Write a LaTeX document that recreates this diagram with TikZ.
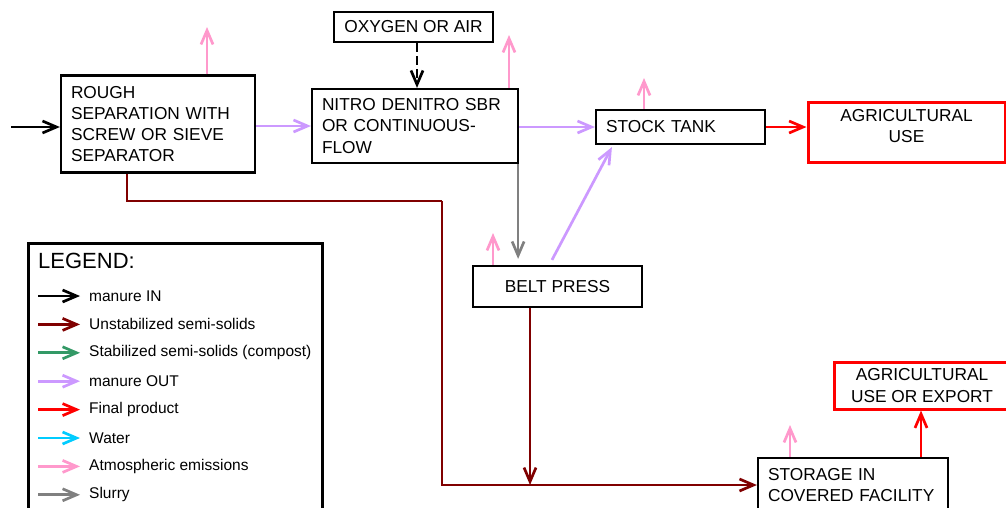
\documentclass[tikz,border=0pt]{standalone}
\usepackage{fontspec}
\setmainfont{Liberation Sans}
\usepackage{xcolor}
\usetikzlibrary{arrows.meta,positioning}
\definecolor{semired}{RGB}{128,0,0}
\definecolor{compost}{RGB}{51,153,102}
\definecolor{manureout}{RGB}{204,153,255}
\definecolor{water}{RGB}{0,204,255}
\definecolor{emission}{RGB}{255,153,204}
\definecolor{slurry}{RGB}{128,128,128}

\begin{document}
\begin{tikzpicture}[
  x=1pt,y=1pt,
  box/.style={draw,line width=2.2pt,align=left,inner xsep=10pt,inner ysep=0pt,
              font=\fontsize{17.3}{21.3}\selectfont},
  product/.style={box,draw=red,line width=3pt,align=center},
  flow/.style={-{Straight Barb[length=14pt,width=12pt]},line width=2.7pt},
  emis/.style={flow,emission},
  legtext/.style={anchor=west,inner sep=0pt,font=\fontsize{15.5}{18}\selectfont}
]
\useasboundingbox (0,0) rectangle (1006,-507);
\clip (0,0) rectangle (1006,-507);

% process boxes
\node[box,text width=174pt,minimum height=97pt] (rough) at (158,-124)
  {ROUGH\\SEPARATION WITH\\SCREW OR SIEVE\\SEPARATOR};
\node[box,text width=186pt,minimum height=74pt] (nitro) at (415,-126)
  {NITRO DENITRO SBR\\OR CONTINUOUS-\\FLOW};
\node[box,align=center,minimum width=159pt,minimum height=30pt] (oxygen) at (413.5,-26.7)
  {OXYGEN OR AIR};
\node[box,text width=149pt,minimum height=34pt] (stock) at (680.5,-127) {STOCK TANK};
\node[product,minimum width=197pt,minimum height=60pt,text depth=12pt] (agri)
  at (906.5,-132) {AGRICULTURAL\\USE};
\node[box,align=center,minimum width=169pt,minimum height=41pt] (belt) at (557.5,-286.5)
  {BELT PRESS};
\node[box,text width=170pt,minimum height=54pt] (storage) at (853,-485)
  {STORAGE IN\\COVERED FACILITY};
\node[product,minimum width=176pt,minimum height=47pt] (export) at (922,-385.5)
  {AGRICULTURAL\\USE OR EXPORT};

% free ends
\coordinate (in) at (11,-127);
\coordinate (air) at (417,0);
\coordinate (bend) at (442,-201);
\coordinate (up) at (921,0);
\coordinate (e1) at (207,-27);
\coordinate (e2) at (509,-35);
\coordinate (e3) at (644,-78);
\coordinate (e4) at (493,-233);
\coordinate (e5) at (790,-425);

% connectors
\draw[flow] (in) -- (in -| rough.west);
\draw[flow,manureout] (rough.east |- nitro.west) -- (nitro.west);
\draw[flow,dash pattern=on 9pt off 4pt] (air |- oxygen.south) -- (air |- nitro.north);
\draw[flow,manureout] (nitro.east |- stock.west) -- (stock.west);
\draw[flow,red] (stock.east) -- (agri.west |- stock.east);
\draw[flow,slurry,shorten >=6pt] ([xshift=-1pt]nitro.south east)
  -- ([xshift=-1pt]nitro.south east |- belt.north);
\draw[flow,manureout] ([xshift=-5.5pt,yshift=5pt]belt.north)
  -- ([xshift=17pt,yshift=-2pt]stock.south west);
\draw[flow,semired,-] ([xshift=-31pt]rough.south) |- (bend);
\draw[flow,semired] (bend) |- (storage.west);
\draw[flow,semired] ([xshift=-27.5pt]belt.south) -- ([xshift=-27.5pt]belt.south |- storage.west);
\draw[flow,red] (up |- storage.north) -- (up |- export.south);

% emissions
\draw[emis] (e1 |- rough.north) -- (e1);
\draw[emis] (e2 |- nitro.north) -- (e2);
\draw[emis] (e3 |- stock.north) -- (e3);
\draw[emis] (e4 |- belt.north) -- (e4);
\draw[emis] (e5 |- storage.north) -- (e5);

% legend
\node[draw,line width=2.5pt,minimum width=294pt,minimum height=290pt,
      anchor=north west,inner sep=0pt] (legend) at (27,-242) {};
\node[anchor=base west,inner sep=0pt,font=\fontsize{22}{26}\selectfont] (legtitle)
  at (38,-268) {LEGEND:};
\foreach \col/\txt [count=\i from 0] in {black/manure IN,
    semired/Unstabilized semi-solids,
    compost/Stabilized semi-solids (compost),
    manureout/manure OUT,
    red/Final product,
    water/Water,
    emission/Atmospheric emissions,
    slurry/Slurry}{
  \coordinate (ls\i) at (38,{-296-28.4*\i});
  \coordinate (le\i) at (80,{-296-28.4*\i});
  \draw[flow,\col] (ls\i) -- (le\i);
  \node[legtext] (lt\i) at (89,{-296-28.4*\i}) {\txt};
}
\end{tikzpicture}
\end{document}
